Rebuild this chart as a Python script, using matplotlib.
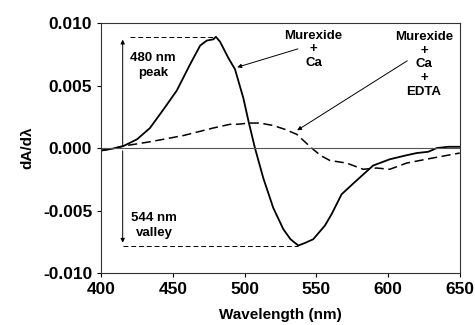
import matplotlib
matplotlib.use("Agg")
import matplotlib.pyplot as plt
from matplotlib.ticker import FuncFormatter

plt.rcParams['font.family'] = ['Liberation Sans', 'DejaVu Sans']

# Murexide + Ca (solid)
ca_wl = [400, 408, 415.5, 425, 434, 443.5, 452.7, 462, 469, 473.6, 478.2, 480, 482.9, 488.7,
         493.3, 499.1, 503, 507.2, 513, 520, 527, 532, 537.4, 542, 547.8, 556, 560.6, 567.6,
         578, 589.6, 601.2, 612, 620, 628, 634, 642, 650]
ca_val = [-0.0002, -0.00005, 0.00016, 0.0007, 0.0016, 0.0031, 0.0046, 0.0067, 0.0082, 0.0086,
          0.0087, 0.0089, 0.0085, 0.0072, 0.0063, 0.0040, 0.0020, 0.0, -0.0024, -0.0048,
          -0.0065, -0.0073, -0.0078, -0.0076, -0.0073, -0.0062, -0.0053, -0.0037, -0.0026,
          -0.0014, -0.0009, -0.0006, -0.0004, -0.0003, 0.0, 0.0001, 0.0001]

# Murexide + Ca + EDTA (dashed)
edta_wl = [400, 408, 415.5, 434, 457.3, 478, 489.8, 494.5, 503.8, 510.7, 520, 528, 536.3,
           546.7, 553, 559.5, 571, 582.7, 592, 601.2, 613, 631, 650]
edta_val = [-0.0002, -0.00005, 0.00016, 0.0005, 0.0010, 0.0016, 0.0019, 0.0019, 0.0020, 0.0020,
            0.0018, 0.0015, 0.0011, 0.0, -0.0006, -0.0010, -0.0012, -0.0017, -0.0016, -0.0017,
            -0.0012, -0.0008, -0.0004]

x_ticks = [400, 450, 500, 550, 600, 650]
y_ticks = [-0.010, -0.005, 0.000, 0.005, 0.010]

peak_wl, peak_val = 480, 0.0089
valley_wl, valley_val = 537.4, -0.0078
arrow_wl = 415

fig = plt.figure(figsize=(4.75, 3.25), dpi=100)
ax = fig.add_axes([0.213, 0.16, 0.755, 0.769])

ax.plot(ca_wl, ca_val, color='black', lw=1.3)
ax.plot(edta_wl, edta_val, color='black', lw=1.1, ls=(0, (6, 3)))
ax.axhline(0, color='#555555', lw=0.8)

# peak / valley markers
ax.plot([arrow_wl + 5, peak_wl], [peak_val, peak_val], color='black', lw=0.7, ls=(0, (5, 3)))
ax.plot([arrow_wl, valley_wl], [valley_val, valley_val], color='black', lw=0.7, ls=(0, (5, 3)))
ax.annotate('', xy=(arrow_wl, peak_val), xytext=(arrow_wl, 0.0),
            arrowprops=dict(arrowstyle='-|>', color='black', lw=0.7, mutation_scale=6))
ax.annotate('', xy=(arrow_wl, valley_val), xytext=(arrow_wl, 0.0),
            arrowprops=dict(arrowstyle='-|>', color='black', lw=0.7, mutation_scale=6))

ax.text(436, 0.0066, '480 nm\npeak', ha='center', va='center', fontsize=9.5,
        fontweight='bold', linespacing=1.25)
ax.text(437, -0.0062, '544 nm\nvalley', ha='center', va='center', fontsize=9.5,
        fontweight='bold', linespacing=1.25)

ax.text(548, 0.0079, 'Murexide\n+\nCa', ha='center', va='center', fontsize=9.5,
        fontweight='bold', linespacing=1.2)
ax.annotate('', xy=(493, 0.0064), xytext=(539, 0.0080),
            arrowprops=dict(arrowstyle='-|>', color='black', lw=0.7, mutation_scale=6))

ax.text(625, 0.0067, 'Murexide\n+\nCa\n+\nEDTA', ha='center', va='center', fontsize=9.5,
        fontweight='bold', linespacing=1.2)
ax.annotate('', xy=(535, 0.0013), xytext=(615, 0.0071),
            arrowprops=dict(arrowstyle='-|>', color='black', lw=0.7, mutation_scale=6))

ax.set_xlim(400, 650)
ax.set_ylim(-0.010, 0.010)
ax.set_xticks(x_ticks)
ax.set_yticks(y_ticks)
ax.yaxis.set_major_formatter(FuncFormatter(lambda v, p: f"{v:.3f}"))
ax.tick_params(axis='both', labelsize=12.5, length=3, width=0.8, direction='out')
for lab in ax.get_xticklabels() + ax.get_yticklabels():
    lab.set_fontweight('bold')
for s in ax.spines.values():
    s.set_linewidth(0.8)
    s.set_color('#333333')

ax.set_xlabel('Wavelength (nm)', fontsize=11, fontweight='bold', labelpad=8)
ax.set_ylabel('dA/dλ', fontsize=11, fontweight='bold', labelpad=6)

fig.savefig('out.png', dpi=100)
